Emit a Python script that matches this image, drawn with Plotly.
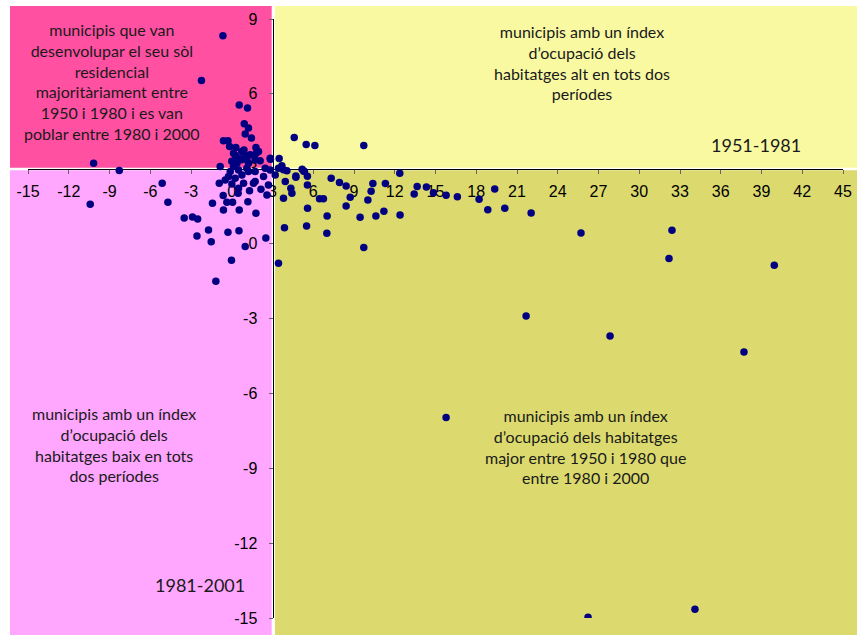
import plotly.graph_objects as go

# Data: x = index 1951-1981, y = index 1981-2001
x_vals = [
    -0.65, -2.23, 0.55, 1.16, 0.92, 1.23, 0.99, 1.45, -0.61, -0.28,
    -0.16, 1.78, 1.80, 1.97, 1.36, -10.17, -8.28, -0.85, 4.60, 5.48,
    6.12, 9.72, -10.42, -5.12, -4.70, -3.50, -2.89, -2.51, -1.42, -0.92,
    -1.71, -2.56, -1.51, -0.28, 0.53, 0.99, -0.02, -1.17, 2.51, 3.88,
    3.44, -0.63, -0.61, -0.36, 0.06, 0.55, 1.19, 1.78, 1.31, 0.47,
    3.81, 4.35, 2.59, 2.15, 4.72, 2.85, 3.49, 3.69, 3.81, 4.06,
    5.18, 5.57, 5.28, 5.35, 4.72, 5.51, 5.58, 5.57, 6.46, 6.75,
    7.02, 7.00, 7.32, 7.93, 8.42, 8.72, 8.42, 9.45, 9.72, 10.02,
    10.26, 10.39, 10.61, 11.20, 11.31, 12.37, 12.39, 13.43, 13.65, 14.33,
    14.85, 15.78, 16.61, 18.21, 18.85, 19.36, 20.10, 22.04, 25.71, 32.41,
    32.19, 39.94, 21.67, 27.85, 37.71, 15.78, 26.23, 34.10,
    0.27, 0.50, 0.70, 0.99, 0.38, 0.13, -0.11, 0.50, -0.24, -0.48,
    0.25, 0.75, 1.11, 1.23, 1.11, 1.72, 2.09, 2.83, 2.46, 1.72,
    1.23, 2.83, 3.44, 3.20, 2.34, 3.94, 1.72, 0.01, 0.87, 0.50,
    1.60, 2.70, 4.43, 0.13, 0.74, 0.00, 0.90, 0.30,
]
y_vals = [
    8.33, 6.54, 5.55, 5.43, 4.80, 4.63, 4.39, 4.23, 4.12, 4.12,
    3.89, 3.85, 3.62, 3.69, 3.56, 3.22, 2.93, 3.09, 4.25, 3.97,
    3.93, 3.93, 1.58, 2.42, 1.66, 1.03, 1.07, 0.99, 1.62, 2.42,
    0.55, 0.31, 0.08, 0.46, 0.52, -0.12, -0.67, -1.51, 0.23, 0.64,
    -0.79, 1.93, 1.35, 1.66, 1.66, 1.35, 1.68, 1.22, 2.12, 2.02,
    1.82, 2.22, 1.95, 2.18, 2.71, 3.38, 3.41, 3.12, 2.96, 2.92,
    2.98, 2.70, 2.91, 2.89, 2.66, 0.71, 1.42, 2.35, 1.80, 1.80,
    1.11, 0.42, 2.62, 2.45, 2.31, 1.86, 1.51, 1.06, -0.16, 1.75,
    2.10, 2.41, 1.11, 1.30, 2.41, 2.82, 1.15, 1.99, 2.29, 2.27,
    2.04, 1.94, 1.88, 1.78, 1.36, 2.19, 1.42, 1.23, 0.43, 0.54,
    -0.60, -0.87, -2.90, -3.70, -4.34, -6.97, -14.97, -14.65,
    3.53, 3.42, 3.36, 3.53, 3.22, 3.09, 2.89, 2.95, 2.69, 2.55,
    2.62, 2.75, 3.02, 3.22, 3.36, 3.36, 3.32, 3.42, 3.02, 2.89,
    2.89, 2.95, 3.02, 2.75, 2.69, 2.49, 2.49, 2.39, 2.42, 2.22,
    2.42, 2.35, 2.02, 3.62, 3.69, 3.30, 3.75, 3.85,
]

x_range = [-15, 45]
y_range = [-15, 9]
x_ticks = list(range(-15, 46, 3))
y_ticks = list(range(-15, 10, 3))
x_tick_labels = [str(v) for v in x_ticks]   # plain hyphen-minus, as in the source
y_tick_labels = [str(v) for v in y_ticks]
cross_x = 3
cross_y = 3

text_tl = "municipis que van<br>desenvolupar el seu sòl<br>residencial<br>majoritàriament entre<br>1950 i 1980 i es van<br>poblar entre 1980 i 2000"
text_tr = "municipis amb un índex<br>d’ocupació dels<br>habitatges alt en tots dos<br>períodes"
text_bl = "municipis amb un índex<br>d’ocupació dels<br>habitatges baix en tots<br>dos períodes"
text_br = "municipis amb un índex<br>d’ocupació dels habitatges<br>major entre 1950 i 1980 que<br>entre 1980 i 2000"
label_x = "1951-1981"
label_y = "1981-2001"

W, H = 857, 635
ML, MR, MT, MB = 28, 14, 19, 17
PW, PH = W - ML - MR, H - MT - MB


def px(p):
    return (p - ML) / PW


def py(p):
    return 1 - (p - MT) / PH


fig = go.Figure()
fig.add_trace(go.Scatter(
    x=x_vals, y=y_vals, mode="markers",
    marker=dict(color="#000080", size=7.5, line=dict(width=0)),
    hoverinfo="x+y", showlegend=False,
))

pos_x = (cross_x - x_range[0]) / (x_range[1] - x_range[0])
pos_y = (cross_y - y_range[0]) / (y_range[1] - y_range[0])

shapes = []
rects = [
    (px(10), px(271.7), py(167.7), py(6), "#FF50A2"),
    (px(275), px(860), py(167.7), py(6), "#F9F9A2"),
    (px(10), px(271.7), py(640), py(170.3), "#FFA6FF"),
    (px(275), px(860), py(640), py(170.3), "#DCDA6E"),
]
for x0, x1, y0, y1, c in rects:
    shapes.append(dict(type="rect", xref="paper", yref="paper", x0=x0, x1=x1,
                       y0=y0, y1=y1, fillcolor=c, line=dict(width=0), layer="below"))

tfont = dict(family="Lato, Carlito, sans-serif", size=16, color="#1a1a1a")
yfont = dict(family="Lato, Carlito, sans-serif", size=18, color="#1a1a1a")
annotations = [
    dict(text=text_tl, x=px(112), y=py(81.5), font=tfont),
    dict(text=text_tr, x=px(582), y=py(62.5), font=tfont),
    dict(text=text_bl, x=px(114), y=py(444), font=tfont),
    dict(text=text_br, x=px(585), y=py(446.5), font=tfont),
    dict(text=label_x, x=px(756), y=py(145), font=yfont),
    dict(text=label_y, x=px(200), y=py(585), font=yfont),
]
for a in annotations:
    a.update(xref="paper", yref="paper", showarrow=False, xanchor="center",
             yanchor="middle", align="center")

axis_common = dict(
    showgrid=False, zeroline=False, showline=True, linecolor="black", linewidth=1,
    ticks="outside", ticklen=4, tickcolor="#666", tickwidth=1,
    tickfont=dict(family="Liberation Sans, Arial, sans-serif", size=16, color="black"),
    anchor="free", layer="below traces", fixedrange=True, automargin=False,
)

fig.update_layout(
    width=W, height=H,
    margin=dict(l=ML, r=MR, t=MT, b=MB, autoexpand=False),
    paper_bgcolor="white", plot_bgcolor="rgba(0,0,0,0)",
    xaxis=dict(range=x_range, tickvals=x_ticks, ticktext=x_tick_labels, position=pos_y,
               ticklabelstandoff=4, **axis_common),
    yaxis=dict(range=y_range, tickvals=y_ticks, ticktext=y_tick_labels, position=pos_x,
               ticklabelstandoff=8, **axis_common),
    shapes=shapes, annotations=annotations, showlegend=False,
)

fig.write_html(
    "out.html",
    config={"displayModeBar": False},
    post_script="document.body.style.margin='0';document.body.style.overflow='hidden';",
)
